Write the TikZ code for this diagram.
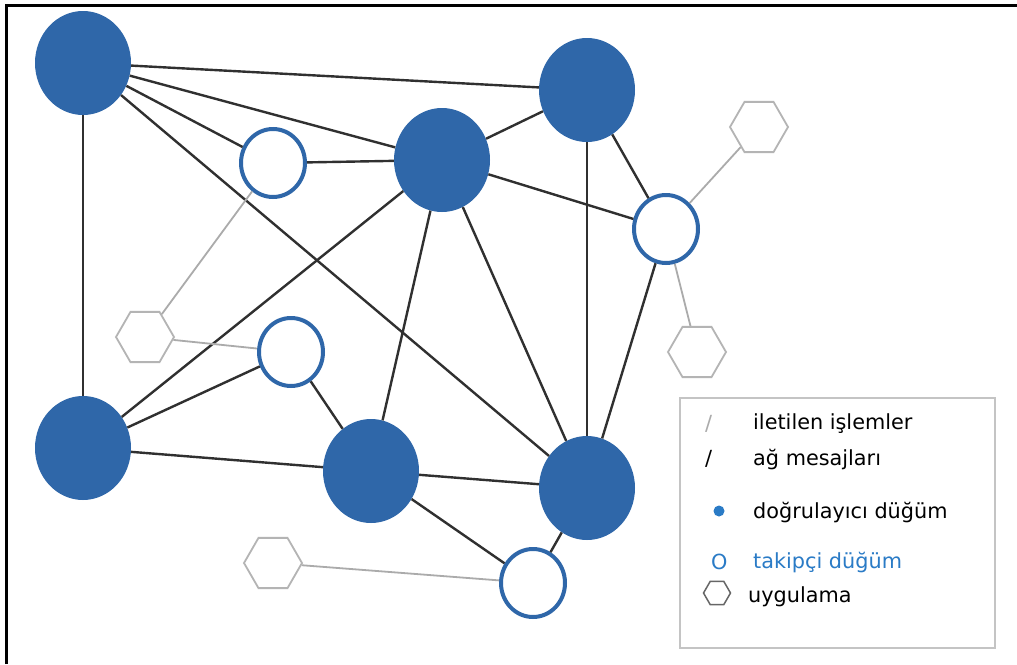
\documentclass[tikz,border=0pt]{standalone}
\usepackage{fontspec}
\setmainfont{DejaVu Sans}
\usetikzlibrary{shapes.geometric}
\definecolor{nodeblue}{HTML}{2F67A9}
\definecolor{keyblue}{HTML}{2A7BC6}
\definecolor{msgline}{HTML}{303030}
\definecolor{txline}{HTML}{ABABAB}
\definecolor{hexgray}{HTML}{B4B4B4}
\definecolor{boxgray}{HTML}{C4C4C4}
\tikzset{
  validator/.style={ellipse, fill=nodeblue, draw=none, minimum width=96pt, minimum height=104pt, inner sep=0pt},
  follower/.style={ellipse, fill=white, draw=nodeblue, line width=4pt, minimum width=64pt, minimum height=68pt, inner sep=0pt},
  app/.style={regular polygon, regular polygon sides=6, draw=hexgray, line width=1.8pt, fill=white, minimum size=58pt, inner sep=0pt},
  msg/.style={draw=msgline, line width=2.4pt},
  tx/.style={draw=txline, line width=1.8pt},
  keytext/.style={anchor=west, inner sep=0pt, font=\fontsize{20.8}{24}\selectfont},
}
\begin{document}
\begin{tikzpicture}[x=1pt, y=-1pt]
\useasboundingbox (0,0) rectangle (1017,664);
\fill[white] (0,0) rectangle (1017,664);
% frame lines on top and left
\draw[black, line width=3pt] (6,664) -- (6,5) -- (1017,5);

% validators
\node[validator] (A) at (83,63) {};
\node[validator] (B) at (587,90) {};
\node[validator] (C) at (442,160) {};
\node[validator] (D) at (83,448) {};
\node[validator] (E) at (371,471) {};
\node[validator] (F) at (587,488) {};

% followers
\node[follower] (G) at (273,163) {};
\node[follower] (H) at (666,229) {};
\node[follower] (I) at (291,352) {};
\node[follower] (J) at (533,583) {};

% applications
\node[app] (K1) at (759,127) {};
\node[app] (K2) at (697,352) {};
\node[app] (K3) at (145,337) {};
\node[app] (K4) at (273,563) {};

% network messages
\draw[msg] (A) -- (B);
\draw[msg] (A) -- (C);
\draw[msg] (A) -- (G);
\draw[msg] (A) -- (F);
\draw[msg] (A) -- (D);
\draw[msg] (G) -- (C);
\draw[msg] (C) -- (B);
\draw[msg] (C) -- (H);
\draw[msg] (C) -- (D);
\draw[msg] (C) -- (E);
\draw[msg] (C) -- (F);
\draw[msg] (B) -- (H);
\draw[msg] (B) -- (F);
\draw[msg] (H) -- (F);
\draw[msg] (D) -- (I);
\draw[msg] (I) -- (E);
\draw[msg] (D) -- (E);
\draw[msg] (E) -- (F);
\draw[msg] (E) -- (J);
\draw[msg] (F) -- (J);

% forwarded transactions
\draw[tx] (H) -- (K1);
\draw[tx] (H) -- (K2);
\draw[tx] (G) -- (K3);
\draw[tx] (I) -- (K3);
\draw[tx] (J) -- (K4);

% legend
\node[draw=boxgray, line width=1.8pt, minimum width=315pt, minimum height=250pt, inner sep=0pt] (key) at (837.5,523) {};
\node[keytext, text=txline] (s1) at (705,424) {/};
\node[keytext] (t1) at (753,424) {iletilen işlemler};
\node[keytext, text=black] (s2) at (705,459) {/};
\node[keytext] (t2) at (753,459) {ağ mesajları};
\node[circle, fill=keyblue, minimum size=11pt, inner sep=0pt] (d3) at (719,511) {};
\node[keytext] (t3) at (753,512) {doğrulayıcı düğüm};
\node[keytext, text=keyblue] (o4) at (711,562) {O};
\node[keytext, text=keyblue] (t4) at (753,562) {takipçi düğüm};
\node[regular polygon, regular polygon sides=6, draw=gray!80!black, line width=1.5pt, minimum size=27pt, inner sep=0pt] (h5) at (717,593) {};
\node[keytext] (t5) at (748,597) {uygulama};
\end{tikzpicture}
\end{document}
